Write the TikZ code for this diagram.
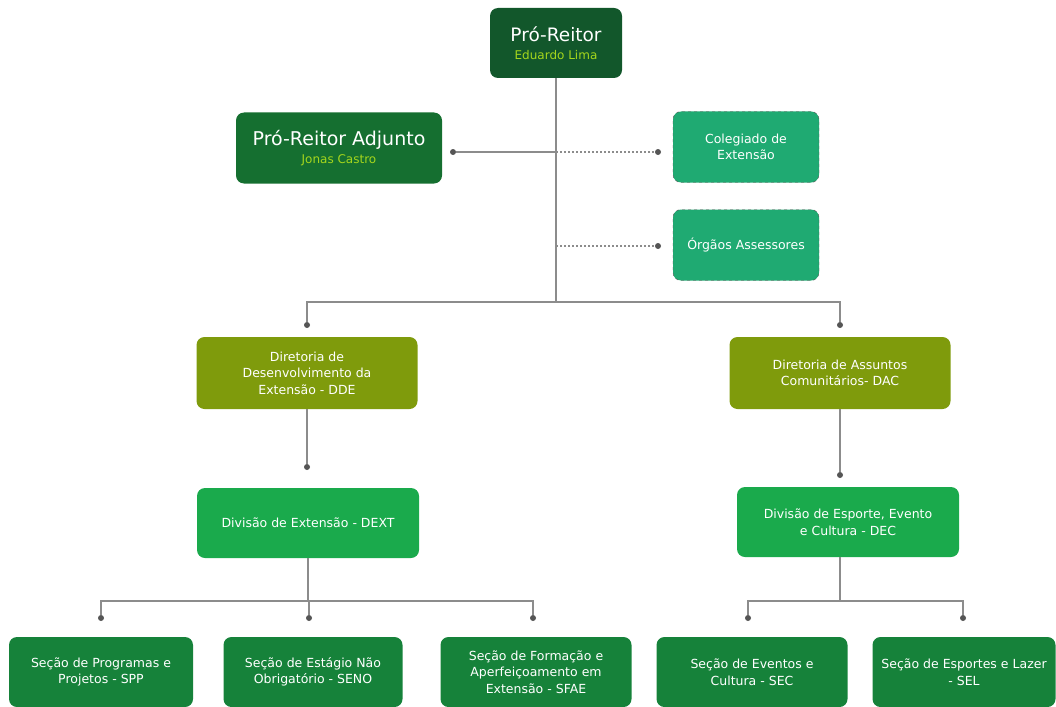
\documentclass[tikz,border=0pt]{standalone}
\usepackage{fontspec}
\setmainfont{DejaVu Sans}
\usetikzlibrary{positioning}

\definecolor{chiefgreen}{HTML}{12572B}
\definecolor{adjgreen}{HTML}{156F30}
\definecolor{namegreen}{HTML}{A5D61C}
\definecolor{boardgreen}{HTML}{1FAA72}
\definecolor{olivegreen}{HTML}{7F9B0C}
\definecolor{divgreen}{HTML}{1AAA4C}
\definecolor{secgreen}{HTML}{16823A}
\definecolor{linegray}{HTML}{8C8C8C}
\definecolor{dotgray}{HTML}{555555}

\begin{document}
\begin{tikzpicture}[x=1pt,y=-1pt]

\tikzstyle{box}=[rectangle, rounded corners=8pt, text=white, align=center, inner sep=0pt, font=\fontsize{12.5}{16.5}\selectfont]
\tikzstyle{chief}=[box, fill=chiefgreen, minimum width=132pt, minimum height=70pt]
\tikzstyle{adjunct}=[box, fill=adjgreen, minimum width=206pt, minimum height=71pt]
\tikzstyle{board}=[box, fill=boardgreen, draw=dotgray, dashed, minimum width=146pt, minimum height=71pt]
\tikzstyle{office}=[box, fill=olivegreen, minimum width=221pt, minimum height=72pt]
\tikzstyle{division}=[box, fill=divgreen, minimum width=222pt, minimum height=70pt]
\tikzstyle{section}=[box, fill=secgreen, minimum height=70pt]
\tikzstyle{link}=[draw=linegray, line width=1.2pt]
\tikzstyle{dots}=[link, dash pattern=on 2pt off 2pt]
\tikzstyle{dot}=[circle, fill=dotgray, inner sep=0pt, minimum size=6pt]

\useasboundingbox (0,0) rectangle (1056,706);

% heads
\node (pr) [chief] at (556,43) {{\fontsize{18.5}{21}\selectfont Pró-Reitor}\\[1pt]{\fontsize{12}{14}\selectfont\color{namegreen}Eduardo Lima}};
\node (adj) [adjunct] at (339,148) {{\fontsize{19}{22}\selectfont Pró-Reitor Adjunto}\\[1pt]{\fontsize{12}{14}\selectfont\color{namegreen}Jonas Castro}};
\node (col) [board] at (746,147) {Colegiado de\\Extensão};
\node (org) [board] at (746,245) {Órgãos Assessores};

% diretorias
\node (dde) [office] at (307,373) {Diretoria de\\Desenvolvimento da\\Extensão - DDE};
\node (dac) [office] at (840,373) {Diretoria de Assuntos\\Comunitários- DAC};

% divisoes
\node (dext) [division] at (308,523) {Divisão de Extensão - DEXT};
\node (dec) [division] at (848,522) {Divisão de Esporte, Evento\\e Cultura - DEC};

% secoes
\node (spp) [section, minimum width=184pt] at (101,672) {Seção de Programas e\\Projetos - SPP};
\node (seno) [section, minimum width=179pt] at (313,672) {Seção de Estágio Não\\Obrigatório - SENO};
\node (sfae) [section, minimum width=191pt] at (536,672) {Seção de Formação e\\Aperfeiçoamento em\\Extensão - SFAE};
\node (sec) [section, minimum width=191pt] at (752,672) {Seção de Eventos e\\Cultura - SEC};
\node (sel) [section, minimum width=183pt] at (964,672) {Seção de Esportes e Lazer\\- SEL};

% connectors
\coordinate (bus) at (556,302);
\coordinate (jadj) at (556,152);
\coordinate (jorg) at (556,246);
\node (dadj) [dot] at (453,152) {};
\node (dcol) [dot] at (658,152) {};
\node (dorg) [dot] at (658,246) {};
\node (ddde) [dot] at (307,325) {};
\node (ddac) [dot] at (840,325) {};
\node (ddext) [dot] at (307,467) {};
\node (ddec) [dot] at (840,475) {};
\node (dspp) [dot] at (101,618) {};
\node (dseno) [dot] at (309,618) {};
\node (dsfae) [dot] at (533,618) {};
\node (dsec) [dot] at (748,618) {};
\node (dsel) [dot] at (963,618) {};
\coordinate (busl) at (308,601);
\coordinate (busr) at (840,601);

\draw [link] (pr.south) -- (bus);
\draw [link] (dadj) -- (jadj);
\draw [dots] (jadj) -- (dcol);
\draw [dots] (jorg) -- (dorg);
\draw [link] (ddde) -- (ddde |- bus) -- (ddac |- bus) -- (ddac);
\draw [link] (dde.south) -- (ddext);
\draw [link] (ddac |- dac.south) -- (ddec);
\draw [link] (busl |- dext.south) -- (busl);
\draw [link] (dspp) -- (dspp |- busl) -- (dsfae |- busl) -- (dsfae);
\draw [link] (dseno) -- (dseno |- busl);
\draw [link] (busr |- dec.south) -- (busr);
\draw [link] (dsec) -- (dsec |- busr) -- (dsel |- busr) -- (dsel);

\end{tikzpicture}
\end{document}
